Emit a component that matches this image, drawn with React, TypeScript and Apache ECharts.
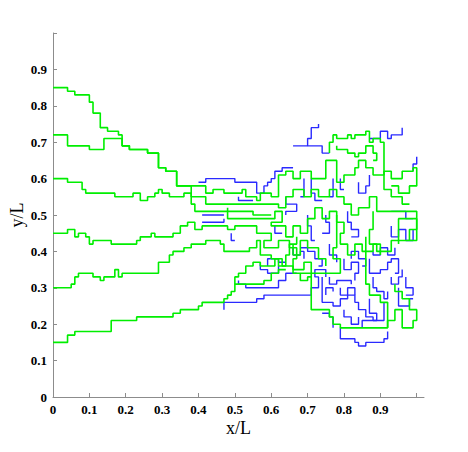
import React, { useEffect, useRef } from "react";
import * as echarts from "echarts";

// Lattice vertices in units of 0.01 (x/L, y/L).
// Green trajectories entering from the left edge
const greenA = [[0,85],[4,85],[4,84],[6,84],[6,83],[10,83],[10,81],[11,81],[11,78],[13,78],[13,74],[15,74],[15,73],[18,73],[18,72],[19,72],[19,69],[21,69],[21,68],[26,68],[26,67],[29,67],[29,63],[31,63],[31,62],[34,62],[34,58],[42,58],[42,56],[44,56],[44,57],[47,57],[47,56],[52,56],[52,57],[53,57],[53,55],[56,55],[56,54],[57,54],[57,56],[60,56],[60,55],[62,55],[62,61],[64,61],[64,62],[66,62],[66,60],[68,60],[68,62],[71,62],[71,60],[75,60],[75,65],[78,65],[78,59],[80,59],[80,61],[83,61],[83,63],[84,63],[84,65],[86,65],[86,63],[88,63],[88,61],[91,61],[91,62],[93,62],[93,60],[96,60],[96,62],[99,62],[99,63],[100,63],[100,58],[98,58],[98,56],[95,56],[95,58],[93,58]];
const greenB = [[0,72],[4,72],[4,69],[10,69],[10,68],[14,68],[14,71],[19,71],[19,69],[21,69],[21,68],[26,68],[26,67],[29,67],[29,63],[31,63],[31,62],[34,62],[34,58],[38,58],[38,55],[42,55],[42,53],[62,53],[62,52],[64,52],[64,55],[66,55],[66,57],[69,57],[69,55],[71,55],[71,57],[73,57],[73,55],[76,55],[76,57],[78,57],[78,55],[80,55],[80,53],[82,53],[82,50],[84,50],[84,52],[87,52],[87,55],[89,55],[89,51],[100,51],[100,46],[98,46],[98,43]];
const greenC = [[0,60],[4,60],[4,59],[8,59],[8,57],[9,57],[9,56],[17,56],[17,55],[22,55],[22,56],[24,56],[24,54],[26,54],[26,55],[28,55],[28,56],[29,56],[29,57],[30,57],[30,56],[32,56],[32,55],[36,55],[36,56],[38,56],[38,53],[39,53],[39,51],[48,51],[48,49],[61,49],[61,51],[63,51],[63,48],[60,48],[60,47],[64,47],[64,44],[66,44],[66,47],[68,47],[68,45],[70,45],[70,49],[72,49],[72,52],[74,52],[74,49],[76,49],[76,51],[78,51],[78,48],[80,48],[80,45],[79,45],[79,42],[81,42],[81,39],[83,39],[83,42],[85,42],[85,40],[88,40],[88,42],[90,42],[90,39]];
const greenD = [[0,45],[4,45],[4,46],[6,46],[6,44],[7,44],[7,45],[9,45],[9,44],[10,44],[10,42],[11,42],[11,43],[16,43],[16,42],[23,42],[23,43],[24,43],[24,44],[27,44],[27,45],[28,45],[28,44],[33,44],[33,45],[35,45],[35,47],[37,47],[37,48],[39,48],[39,46],[41,46],[41,47],[48,47],[48,46],[50,46],[50,47],[56,47],[56,45],[60,45],[60,43],[58,43],[58,41],[62,41],[62,43],[65,43],[65,41],[67,41],[67,38],[66,38],[66,35],[69,35],[69,37],[71,37],[71,33]];
const greenE = [[0,30],[5,30],[5,31],[6,31],[6,33],[7,33],[7,34],[11,34],[11,33],[13,33],[13,32],[14,32],[14,33],[17,33],[17,35],[18,35],[18,33],[19,33],[19,34],[29,34],[29,37],[32,37],[32,39],[33,39],[33,40],[36,40],[36,41],[38,41],[38,42],[42,42],[42,43],[46,43],[46,42],[47,42],[47,40],[54,40],[54,41],[56,41],[56,43],[57,43],[57,39],[60,39],[60,38],[62,38],[62,36],[64,36],[64,39],[65,39],[65,42],[67,42],[67,44]];
const greenF = [[0,15],[4,15],[4,17],[6,17],[6,18],[16,18],[16,21],[23,21],[23,22],[33,22],[33,23],[35,23],[35,24],[40,24],[40,25],[41,25],[41,26],[47,26],[47,27],[48,27],[48,28],[49,28],[49,29],[50,29],[50,33],[51,33],[51,34],[53,34],[53,36],[55,36],[55,37],[57,37],[57,36],[61,36],[61,38],[63,38],[63,36],[66,36],[66,34],[68,34],[68,32],[70,32],[70,33],[71,33],[71,24],[76,24],[76,22],[77,22],[77,20],[79,20],[79,19],[92,19],[92,21],[94,21],[94,24],[96,24],[96,19],[99,19],[99,21],[100,21],[100,24],[98,24],[98,27],[96,27],[96,29],[94,29],[94,31]];
// Green strands inside the tangle
const greenTop = [[76,67],[76,70],[77,70],[77,72],[78,72],[78,71],[81,71],[81,72],[82,72],[82,71],[83,71],[83,72],[86,72],[86,73],[87,73],[87,70],[88,70],[88,71],[90,71],[90,70],[91,70],[91,61]];
const greenTopIn = [[78,69],[78,68],[81,68],[81,67],[83,67],[83,66],[84,66],[84,67],[86,67],[86,69],[88,69],[88,67],[89,67],[89,65],[88,65]];
const greenStair = [[50,31],[58,31],[58,32],[60,32],[60,34],[62,34],[62,35],[64,35]];
const greenMidR = [[88,51],[88,46],[87,46],[87,42],[89,42],[89,40],[93,40],[93,43],[100,43],[100,49],[95,49],[95,42]];
const greenLowR = [[86,44],[86,31],[87,31],[87,28],[90,28],[90,26],[92,26],[92,19]];
const greenCore = [[78,50],[78,41],[77,41],[77,38],[79,38],[79,34],[68,34]];
const greenCore2 = [[66,42],[66,39],[68,39],[68,43],[70,43],[70,41],[73,41],[73,38],[75,38],[75,36]];
const greenRight = [[91,61],[91,57],[93,57],[93,55],[96,55],[96,53],[98,53]];
const greenBand = [[48,52],[48,51],[55,51],[55,50],[60,50]];

// Blue trajectories
const blueTopBand = [[40,59],[42,59],[42,60],[50,60],[50,59],[56,59],[56,56],[58,56],[58,58],[59,58],[59,59],[60,59],[60,60],[61,60],[61,62],[63,62],[63,63],[66,63]];
const blueSpike = [[73,75],[73,74],[71,74],[71,71],[70,71],[70,69],[66,69]];
const blueSpike2 = [[70,69],[74,69],[74,67],[76,67]];
const blueTopRight = [[87,71],[90,71],[90,73],[92,73],[92,71],[93,71],[93,72],[96,72],[96,74]];
const blueEdge = [[100,66],[100,64],[99,64],[99,62]];
const blueVert1 = [[69,60],[69,55],[68,55]];
const blueVert2 = [[71,60],[71,56],[72,56],[72,54],[74,54]];
const blueVert3 = [[77,60],[77,55],[76,55]];
const blueVert4 = [[84,59],[84,56],[86,56],[86,58],[87,58],[87,61]];
const blueVert5 = [[79,60],[79,57],[80,57]];
const blueMid50 = [[41,50],[47,50]];
const blueMid48 = [[41,48],[47,48],[47,49]];
const blueMidA = [[64,55],[64,53],[67,53],[67,51],[64,51],[64,50]];
const blueMidB = [[70,50],[70,47],[71,47],[71,43],[72,43]];
const blueMidC = [[75,50],[75,48],[76,48],[76,45],[74,45]];
const blueMidD = [[81,51],[81,48],[82,48],[82,46],[84,46],[84,44],[82,44]];
const blueMidE = [[66,41],[66,39],[68,39],[68,40],[69,40],[69,38]];
const blueSmall = [[51,55],[51,54],[55,54]];
const blueSmall2 = [[61,47],[61,45],[63,45]];
const blueSmall3 = [[49,45],[49,43],[50,43]];
const blueStairL = [[47,24],[47,26],[56,26],[56,27],[58,27],[58,28],[71,28],[71,30],[73,30],[73,33],[72,33],[72,35],[75,35],[75,33]];
const blueStair2 = [[51,32],[51,31],[53,31],[53,30],[62,30],[62,32],[64,32],[64,34],[67,34]];
const blueStair3 = [[59,36],[59,38],[62,38],[62,37],[64,37]];
const blueStair4 = [[57,37],[57,35],[59,35],[59,34],[62,34],[62,36]];
const blueBottom = [[79,19],[79,16],[83,16],[83,15],[84,15],[84,14],[86,14],[86,15],[91,15],[91,16],[92,16],[92,18]];
const blueLowA = [[74,23],[76,23],[76,22],[77,22],[77,19]];
const blueLowB = [[74,33],[74,26],[77,26],[77,25],[79,25],[79,27],[81,27],[81,30],[83,30],[83,28]];
const blueLowC = [[87,38],[87,34],[90,34],[90,35],[92,35],[92,37],[93,37],[93,38],[95,38],[95,34],[94,34]];
const blueLowD = [[88,33],[88,30],[89,30],[89,29],[91,29],[91,27],[92,27],[92,29]];
const blueLowE = [[95,30],[95,25],[98,25],[98,27],[99,27]];
const blueLowF = [[87,27],[87,23],[89,23],[89,21],[85,21],[85,19]];
const blueLowG = [[80,38],[80,35],[82,35],[82,37],[84,37],[84,34],[83,34],[83,32]];
const blueLowH = [[76,42],[76,39],[78,39],[78,37]];
const blueLowI = [[68,41],[70,41],[70,40],[72,40],[72,38],[74,38],[74,36],[73,36]];
const blueLowJ = [[76,33],[76,31],[78,31],[78,32],[82,32],[82,31]];
const blueLowK = [[79,30],[79,28],[83,28],[83,26],[84,26],[84,24],[86,24],[86,22],[88,22],[88,21],[91,21],[91,26]];
const blueLowL = [[82,38],[82,40],[84,40],[84,38],[86,38],[86,36],[85,36]];
const blueLowM = [[88,40],[88,39],[90,39],[90,41],[92,41],[92,39],[94,39],[94,41]];
const blueLowN = [[97,33],[97,30],[99,30],[99,28],[97,28]];
const blueLowO = [[93,33],[93,31],[95,31],[95,33],[96,33],[96,35]];
const blueLowP = [[80,24],[80,22],[82,22],[82,20],[84,20],[84,22]];
const blueLowQ = [[75,28],[75,30],[77,30],[77,29]];
const blueRightA = [[93,51],[97,51],[97,49],[99,49]];
const blueRightB = [[93,47],[93,44],[95,44],[95,46],[97,46],[97,43],[99,43],[99,46]];

const greenPaths = [greenA, greenB, greenC, greenD, greenE, greenF, greenTop, greenTopIn, greenStair, greenMidR, greenLowR, greenCore, greenCore2, greenRight, greenBand];
const bluePaths = [blueTopBand, blueSpike, blueSpike2, blueTopRight, blueEdge, blueVert1, blueVert2, blueVert3, blueVert4, blueVert5, blueMid50, blueMid48, blueMidA, blueMidB, blueMidC, blueMidD, blueMidE, blueSmall, blueSmall2, blueSmall3, blueStairL, blueStair2, blueStair3, blueStair4, blueBottom, blueLowA, blueLowB, blueLowC, blueLowD, blueLowE, blueLowF, blueLowG, blueLowH, blueLowI, blueLowJ, blueLowK, blueLowL, blueLowM, blueLowN, blueLowO, blueLowP, blueLowQ, blueRightA, blueRightB];

const tickValues = [0, 0.1, 0.2, 0.3, 0.4, 0.5, 0.6, 0.7, 0.8, 0.9, 1.0];
const labelValues = [0, 0.1, 0.2, 0.3, 0.4, 0.5, 0.6, 0.7, 0.8, 0.9];

const toData = (p: number[][]) => p.map(([x, y]) => [x / 100, y / 100]);

export default function App() {
  const ref = useRef<HTMLDivElement>(null);
  useEffect(() => {
    const chart = echarts.init(ref.current!, null, { renderer: "svg" });
    const labelStyle = {
      fontFamily: "Liberation Serif",
      fontWeight: "bold" as const,
      fontSize: 13,
      color: "#000",
      margin: 6,
      customValues: labelValues,
      formatter: (v: number) => (v === 0 ? "0" : String(Math.round(v * 10) / 10)),
    };
    const axisCommon = {
      type: "value" as const,
      min: 0,
      splitLine: { show: false },
      axisLine: { lineStyle: { color: "#8c8c8c", width: 1 } },
      axisTick: { inside: true, length: 4, lineStyle: { color: "#8c8c8c" }, customValues: tickValues },
      axisLabel: labelStyle,
      nameLocation: "middle" as const,
      nameMoveOverlap: false,
      nameTextStyle: { fontFamily: "Liberation Serif", fontSize: 18, color: "#000" },
    };
    const series: any[] = [];
    bluePaths.forEach((p) =>
      series.push({ type: "line", data: toData(p), showSymbol: false, silent: true, lineStyle: { color: "#2a2aff", width: 1.4 }, z: 2 })
    );
    greenPaths.forEach((p) =>
      series.push({ type: "line", data: toData(p), showSymbol: false, silent: true, lineStyle: { color: "#00ee00", width: 1.6 }, z: 3 })
    );
    chart.setOption({
      animation: false,
      grid: { left: 53, right: 44, top: 33, bottom: 55, containLabel: false, outerBoundsMode: "none" },
      xAxis: { ...axisCommon, max: 1.02, name: "x/L", nameGap: 22 },
      yAxis: { ...axisCommon, max: 1.0, name: "y/L", nameGap: 27, nameRotate: 90 },
      series,
    });
    return () => chart.dispose();
  }, []);
  return <div ref={ref} style={{ position: "fixed", left: 0, top: 0, width: 468, height: 452, background: "#fff" }} />;
}
